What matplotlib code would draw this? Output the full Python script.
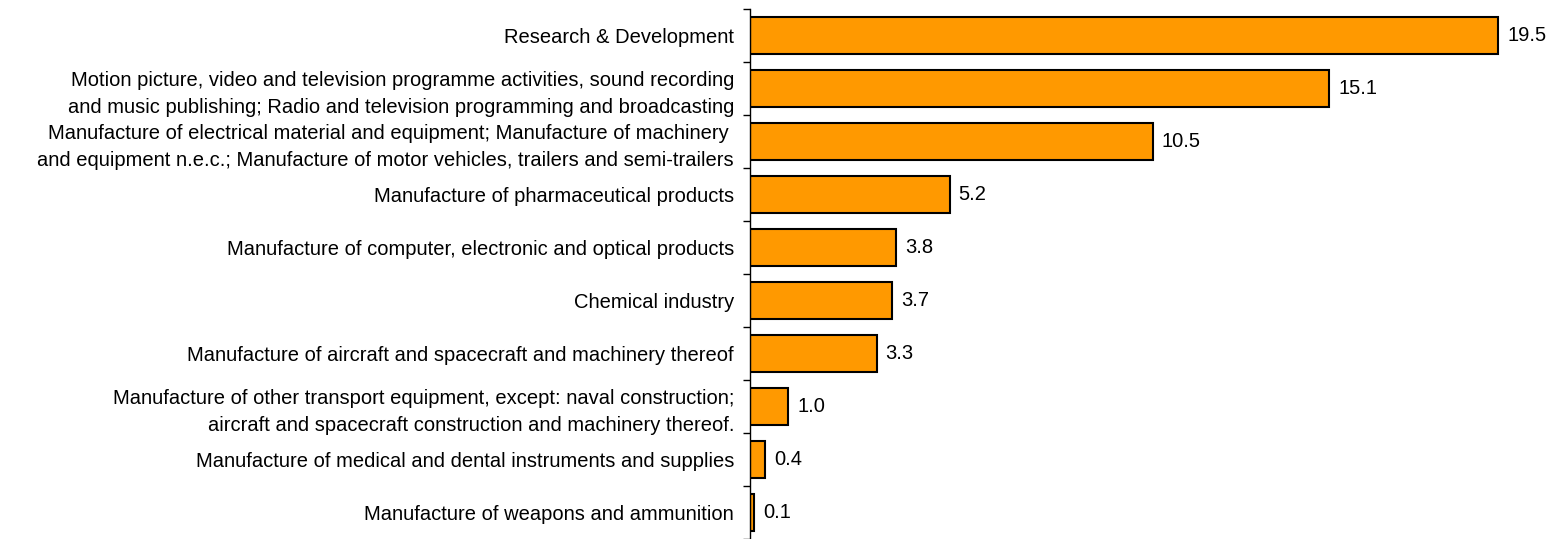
import matplotlib
matplotlib.use("Agg")
import matplotlib.pyplot as plt
import numpy as np

categories = [
    "Research & Development",
    "Motion picture, video and television programme activities, sound recording\nand music publishing; Radio and television programming and broadcasting",
    "Manufacture of electrical material and equipment; Manufacture of machinery \nand equipment n.e.c.; Manufacture of motor vehicles, trailers and semi-trailers",
    "Manufacture of pharmaceutical products",
    "Manufacture of computer, electronic and optical products",
    "Chemical industry",
    "Manufacture of aircraft and spacecraft and machinery thereof",
    "Manufacture of other transport equipment, except: naval construction;\naircraft and spacecraft construction and machinery thereof.",
    "Manufacture of medical and dental instruments and supplies",
    "Manufacture of weapons and ammunition",
]
values = [19.5, 15.1, 10.5, 5.2, 3.8, 3.7, 3.3, 1.0, 0.4, 0.1]
value_labels = ["19.5", "15.1", "10.5", "5.2", "3.8", "3.7", "3.3", "1.0", "0.4", "0.1"]

plt.rcParams['font.family'] = ['Liberation Sans', 'DejaVu Sans']

W, H = 1548, 539
fig = plt.figure(figsize=(W / 100, H / 100), dpi=100)
ax = fig.add_axes([750 / W, 0.0, 1 - 750 / W, 1 - 9 / H])

n = len(categories)
y = np.arange(n)
ax.barh(y, values, height=0.68, color="#FF9900", edgecolor="black", linewidth=1.5)
ax.set_ylim(n - 0.5, -0.5)
ax.set_xlim(0, 20.8)

ax.set_yticks(y)
ax.set_yticklabels(categories, fontsize=14.5, linespacing=1.5, ha="right")
ax.tick_params(axis="y", which="major", length=0, pad=11.5)
ax.set_yticks(np.arange(n + 1) - 0.5, minor=True)
ax.tick_params(axis="y", which="minor", length=5, width=1, direction="out", color="black")
ax.set_xticks([])

for s in ["top", "right", "bottom"]:
    ax.spines[s].set_visible(False)
ax.spines["left"].set_linewidth(1)

for yi, v, lab in zip(y, values, value_labels):
    ax.annotate(lab, (v, yi), xytext=(6.5, 0), textcoords="offset points",
                va="center", ha="left", fontsize=14.5)

fig.savefig("out.png", dpi=100)
